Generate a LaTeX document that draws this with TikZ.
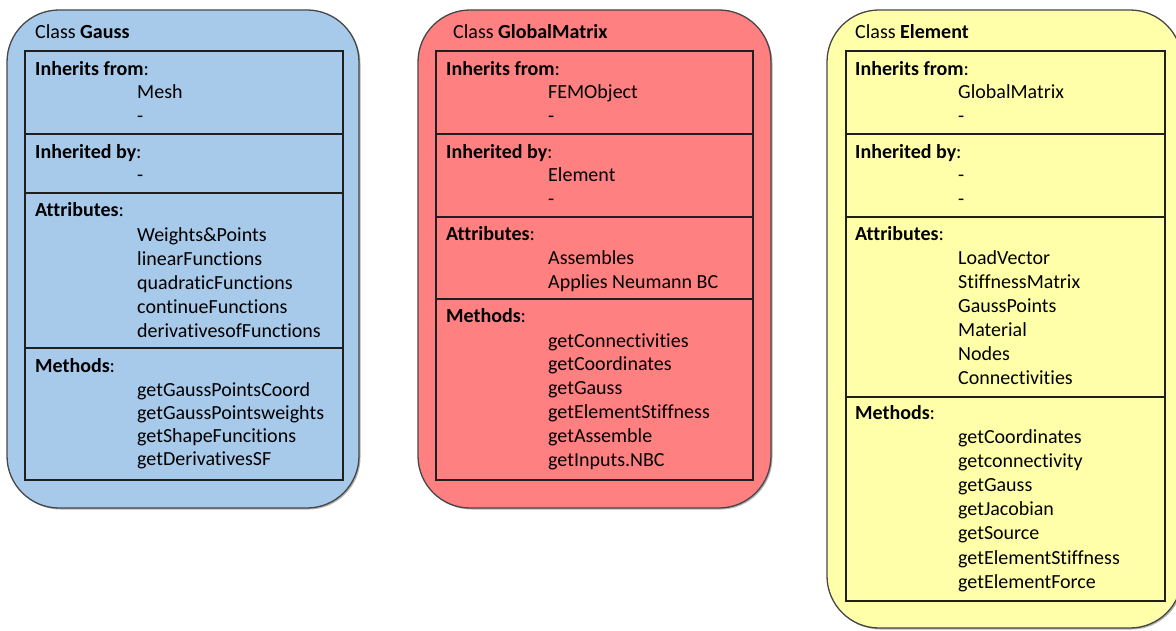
\documentclass[tikz,border=0pt]{standalone}
\usepackage{fontspec}
\setmainfont{Carlito}[Ligatures=NoCommon]
\definecolor{gaussblue}{RGB}{167,201,234}
\definecolor{gmred}{RGB}{255,128,128}
\definecolor{elyellow}{RGB}{255,255,170}
\begin{document}
\begin{tikzpicture}[x=1pt,y=-1pt,
  outerbox/.style={draw=black!72, line width=1.3pt, rounded corners=52pt},
  shadowbox/.style={fill=black!30, rounded corners=52pt},
  innerbox/.style={draw=black!88, line width=1.2pt},
  txt/.style={anchor=base west, inner sep=0pt, font=\fontsize{20}{24}\selectfont}]
\useasboundingbox (0,0) rectangle (1176,631);

% ---------------- Gauss ----------------
\fill[shadowbox] (8.5,11.5) rectangle (360.5,509.5);
\draw[outerbox, fill=gaussblue] (7,10) rectangle (359,508);
\draw[innerbox] (25,51) rectangle (343,480);
\draw[innerbox] (25,134) -- (343,134);
\draw[innerbox] (25,193) -- (343,193);
\draw[innerbox] (25,348) -- (343,348);
\node[txt] (g-title) at (35,39) {Class \textbf{Gauss}};
\node[txt] (g-if) at (35,76) {\textbf{Inherits from}:};
\foreach \t [count=\i from 0] in {Mesh,-}
  \node[txt] (g-if-\i) at (137,{99+24*\i}) {\t};
\node[txt] (g-ib) at (35,159) {\textbf{Inherited by}:};
\node[txt] (g-ib-0) at (137,182) {-};
\node[txt] (g-at) at (35,217) {\textbf{Attributes}:};
\foreach \t [count=\i from 0] in {Weights\&Points,linearFunctions,quadraticFunctions,continueFunctions,derivativesofFunctions}
  \node[txt] (g-at-\i) at (137,{242+23.8*\i}) {\t};
\node[txt] (g-me) at (35,372) {\textbf{Methods}:};
\foreach \t [count=\i from 0] in {getGaussPointsCoord,getGaussPointsweights,getShapeFuncitions,getDerivativesSF}
  \node[txt] (g-me-\i) at (137,{396+23.3*\i}) {\t};

% ---------------- GlobalMatrix ----------------
\fill[shadowbox] (419.5,11.5) rectangle (772.5,509.5);
\draw[outerbox, fill=gmred] (418,10) rectangle (771,508);
\draw[innerbox] (436,51) rectangle (753,480);
\draw[innerbox] (436,134) -- (753,134);
\draw[innerbox] (436,217) -- (753,217);
\draw[innerbox] (436,299) -- (753,299);
\node[txt] (m-title) at (453,39) {Class \textbf{GlobalMatrix}};
\node[txt] (m-if) at (446,76) {\textbf{Inherits from}:};
\foreach \t [count=\i from 0] in {FEMObject,-}
  \node[txt] (m-if-\i) at (548,{99+24*\i}) {\t};
\node[txt] (m-ib) at (446,159) {\textbf{Inherited by}:};
\foreach \t [count=\i from 0] in {Element,-}
  \node[txt] (m-ib-\i) at (548,{182+24*\i}) {\t};
\node[txt] (m-at) at (446,241) {\textbf{Attributes}:};
\foreach \t [count=\i from 0] in {Assembles,Applies Neumann BC}
  \node[txt] (m-at-\i) at (548,{265+23.5*\i}) {\t};
\node[txt] (m-me) at (446,323) {\textbf{Methods}:};
\foreach \t [count=\i from 0] in {getConnectivities,getCoordinates,getGauss,getElementStiffness,getAssemble,getInputs.NBC}
  \node[txt] (m-me-\i) at (548,{347+23.8*\i}) {\t};

% ---------------- Element ----------------
\fill[shadowbox] (828.5,11.5) rectangle (1183.5,629.5);
\draw[outerbox, fill=elyellow] (827,10) rectangle (1182,628);
\draw[innerbox] (846,51) rectangle (1165,601);
\draw[innerbox] (846,134) -- (1165,134);
\draw[innerbox] (846,217) -- (1165,217);
\draw[innerbox] (846,397) -- (1165,397);
\node[txt] (e-title) at (855,39) {Class \textbf{Element}};
\node[txt] (e-if) at (855,76) {\textbf{Inherits from}:};
\foreach \t [count=\i from 0] in {GlobalMatrix,-}
  \node[txt] (e-if-\i) at (958,{99+24*\i}) {\t};
\node[txt] (e-ib) at (855,159) {\textbf{Inherited by}:};
\foreach \t [count=\i from 0] in {-,-}
  \node[txt] (e-ib-\i) at (958,{182+24*\i}) {\t};
\node[txt] (e-at) at (855,241) {\textbf{Attributes}:};
\foreach \t [count=\i from 0] in {LoadVector,StiffnessMatrix,GaussPoints,Material,Nodes,Connectivities}
  \node[txt] (e-at-\i) at (958,{265+23.8*\i}) {\t};
\node[txt] (e-me) at (855,419) {\textbf{Methods}:};
\foreach \t [count=\i from 0] in {getCoordinates,getconnectivity,getGauss,getJacobian,getSource,getElementStiffness,getElementForce}
  \node[txt] (e-me-\i) at (958,{443+24.2*\i}) {\t};
\end{tikzpicture}
\end{document}
